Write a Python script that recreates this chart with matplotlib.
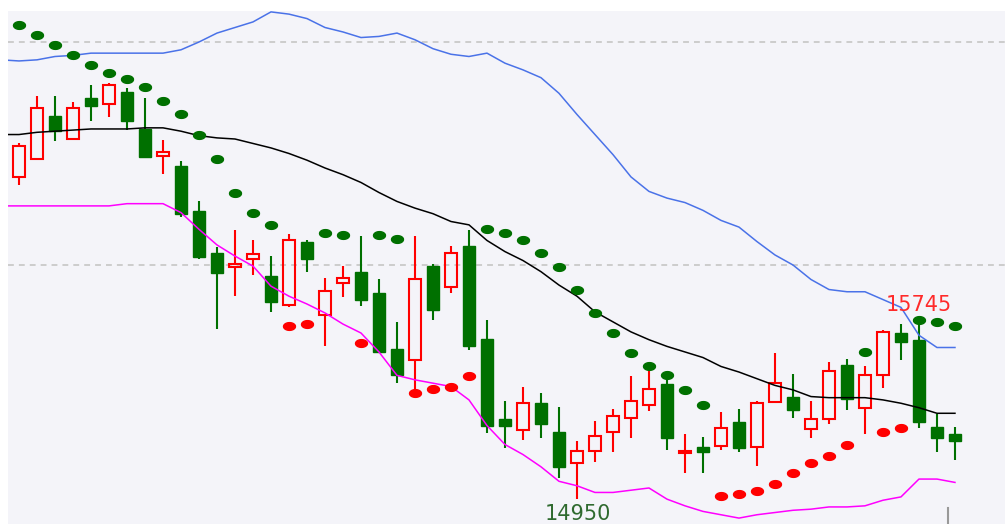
import numpy as np
import matplotlib
matplotlib.use("Agg")
import matplotlib.pyplot as plt

# OHLC (one candle per bar)
opens = [16395, 16475, 16670, 16565, 16750, 16720, 16775, 16610, 16490, 16445,
         16240, 16055, 15990, 16025, 15950, 15820, 16105, 15775, 15920, 15970,
         15875, 15625, 15575, 15995, 15900, 16085, 15670, 15310, 15260, 15380,
         15250, 15110, 15165, 15250, 15315, 15370, 15465, 15155, 15185, 15190,
         15295, 15185, 15385, 15410, 15265, 15310, 15550, 15360, 15505, 15695,
         15665, 15275, 15240]
highs = [16545, 16760, 16760, 16730, 16805, 16815, 16795, 16750, 16560, 16465,
         16285, 16080, 16155, 16110, 16040, 16140, 16110, 15940, 15995, 16130,
         15935, 15745, 16130, 16005, 16085, 16155, 15755, 15390, 15455, 15425,
         15365, 15210, 15300, 15355, 15500, 15535, 15500, 15240, 15230, 15340,
         15355, 15390, 15605, 15510, 15390, 15565, 15580, 15545, 15710, 15735,
         15745, 15330, 15275]
lows = [16360, 16470, 16555, 16560, 16645, 16665, 16605, 16480, 16410, 16215,
        16025, 15715, 15860, 15955, 15790, 15810, 15970, 15635, 15855, 15815,
        15605, 15470, 15415, 15755, 15875, 15620, 15245, 15180, 15215, 15225,
        15045, 14950, 15115, 15160, 15225, 15345, 15170, 15065, 15065, 15170,
        15160, 15100, 15380, 15315, 15225, 15285, 15350, 15240, 15450, 15575,
        15270, 15160, 15125]
closes = [16535, 16705, 16600, 16705, 16715, 16805, 16645, 16485, 16505, 16230,
          16035, 15965, 16005, 16050, 15835, 16110, 16025, 15885, 15940, 15845,
          15610, 15505, 15935, 15800, 16055, 15635, 15280, 15280, 15380, 15285,
          15095, 15165, 15235, 15325, 15390, 15445, 15225, 15165, 15160, 15270,
          15180, 15380, 15470, 15350, 15310, 15525, 15400, 15505, 15700, 15655,
          15295, 15225, 15210]

# Bollinger lines, from bar -1 (clipped at the left edge) to bar 52
band_upper = [16920, 16915, 16920, 16935, 16940, 16950, 16950, 16950, 16950, 16950,
              16965, 17000, 17040, 17065, 17090, 17135, 17125, 17105, 17065, 17045,
              17020, 17025, 17040, 17010, 16970, 16945, 16935, 16950, 16905, 16875,
              16840, 16770, 16675, 16585, 16495, 16395, 16330, 16300, 16280, 16245,
              16200, 16170, 16105, 16045, 16000, 15935, 15890, 15880, 15880, 15845,
              15810, 15685, 15630, 15630]
band_mid = [16585, 16585, 16595, 16600, 16605, 16610, 16610, 16610, 16615, 16615,
            16600, 16580, 16570, 16565, 16545, 16525, 16500, 16470, 16435, 16405,
            16370, 16325, 16285, 16255, 16230, 16195, 16180, 16110, 16060, 16020,
            15970, 15910, 15860, 15790, 15745, 15700, 15665, 15635, 15610, 15585,
            15545, 15520, 15490, 15460, 15440, 15410, 15405, 15405, 15405, 15395,
            15380, 15360, 15335, 15335]
band_lower = [16265, 16265, 16265, 16265, 16265, 16265, 16265, 16275, 16275, 16275,
              16235, 16160, 16090, 16040, 15995, 15905, 15860, 15825, 15785, 15735,
              15695, 15610, 15505, 15485, 15470, 15455, 15395, 15280, 15195, 15150,
              15095, 15030, 15010, 14980, 14980, 14990, 15000, 14950, 14920, 14895,
              14880, 14865, 14880, 14890, 14900, 14905, 14915, 14915, 14920, 14945,
              14960, 15040, 15040, 15025]

# Parabolic SAR dots
sar = [17075, 17030, 16985, 16940, 16895, 16860, 16835, 16800, 16735, 16675,
       16585, 16475, 16325, 16235, 16180, 15725, 15735, 16145, 16135, 15650,
       16135, 16115, 15425, 15445, 15455, 15500, 16160, 16145, 16110, 16055,
       15990, 15890, 15785, 15695, 15605, 15545, 15505, 15440, 15370, 14965,
       14975, 14985, 15020, 15065, 15110, 15145, 15195, 15610, 15250, 15270,
       15755, 15745, 15725]

grid_levels = [16000, 17000]
low_label, low_bar = "14950", 31
high_label, high_bar = "15745", 50

UP = "#FF0000"
DOWN = "#007000"
BG = "#F4F4F9"

fig = plt.figure(figsize=(10.05, 5.24), dpi=100)
ax = fig.add_axes([8 / 1005, 0, 997 / 1005, 513 / 524])
ax.set_facecolor(BG)
for s in ax.spines.values():
    s.set_visible(False)
ax.set_xticks([])
ax.set_yticks([])

n = len(opens)
x = np.arange(n)
o = np.array(opens)
h = np.array(highs)
l = np.array(lows)
c = np.array(closes)

for lv in grid_levels:
    ax.axhline(lv, color="#CCCCCC", lw=1.4, dashes=(3, 2.6), zorder=1)

up = c >= o
top = np.maximum(o, c)
bot = np.minimum(o, c)

# wicks
ax.vlines(x[~up], l[~up], h[~up], color=DOWN, lw=1.5, zorder=2)
ax.vlines(x[up], top[up], h[up], color=UP, lw=1.5, zorder=2)
ax.vlines(x[up], l[up], bot[up], color=UP, lw=1.5, zorder=2)

# bodies
ax.bar(x[~up], (top - bot)[~up], bottom=bot[~up], width=0.68,
       color=DOWN, edgecolor=DOWN, lw=1.0, zorder=3)
ax.bar(x[up], np.maximum((top - bot)[up], 4), bottom=bot[up], width=0.64,
       facecolor="none", edgecolor=UP, lw=1.5, zorder=3)

xb = np.arange(-1, n)
ax.plot(xb, band_upper, color="#4A72E8", lw=1.1, zorder=4)
ax.plot(xb, band_mid, color="#000000", lw=1.1, zorder=4)
ax.plot(xb, band_lower, color="#FF00FF", lw=1.1, zorder=4)

t = np.linspace(0, 2 * np.pi, 40)
ell = np.column_stack([np.cos(t), 0.65 * np.sin(t)])
s = np.array(sar)
above = s > c
ax.plot(x[above], s[above], ls="none", marker=ell, ms=8.6,
        color=DOWN, mec=DOWN, zorder=5)
ax.plot(x[~above], s[~above], ls="none", marker=ell, ms=8.6,
        color=UP, mec=UP, zorder=5)

ax.annotate(low_label, (low_bar, l[low_bar]), xytext=(1, -11), textcoords="offset points",
            ha="center", va="center", fontsize=15, color="#2F6A2F", zorder=6)
ax.annotate(high_label, (high_bar, h[high_bar]), xytext=(0, 12), textcoords="offset points",
            ha="center", va="center", fontsize=15, color="#FF2A2A", zorder=6)

ax.axvline(51.6, ymin=0, ymax=0.031, color="#999999", lw=1.5)

ax.set_xlim(-0.611, 54.78)
ax.set_ylim(14838.5, 17139)

fig.savefig("out.png", dpi=100, facecolor="white")
